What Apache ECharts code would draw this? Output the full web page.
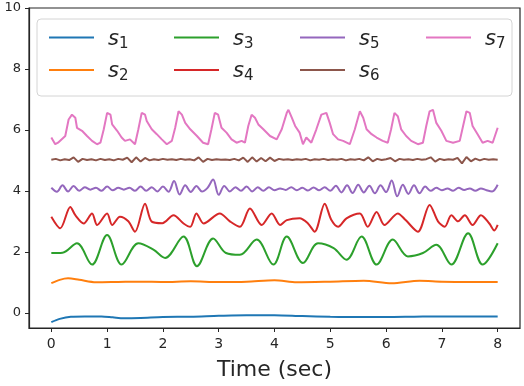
<!DOCTYPE html>
<html>
<head>
<meta charset="utf-8">
<script src="https://cdn.jsdelivr.net/npm/echarts@6/dist/echarts.min.js"></script>
<style>
  html, body { margin: 0; padding: 0; background: #fff; }
  #main { width: 524px; height: 386px; }
</style>
</head>
<body>
<div id="main"></div>
<script>
// tick labels
const xTicks = [0, 1, 2, 3, 4, 5, 6, 7, 8]
const yTicks = [0, 2, 4, 6, 8, 10]
const names = ['s1', 's2', 's3', 's4', 's5', 's6', 's7']
const colors = ['#1f77b4', '#ff7f0e', '#2ca02c', '#d62728', '#9467bd', '#8c564b', '#e377c2']

// s1 (blue)
const s1T = [0, 0.15, 0.35, 0.6, 0.9, 1.1, 1.3, 1.6, 2.0, 2.5, 3.0, 3.5, 4.0, 4.5, 5.0, 5.5, 6.0, 6.5, 7.0, 7.5, 8.0]
const s1 = [-0.31, -0.2, -0.13, -0.12, -0.12, -0.15, -0.18, -0.17, -0.14, -0.13, -0.1, -0.08, -0.08, -0.11, -0.13, -0.14, -0.14, -0.13, -0.12, -0.12, -0.12]

// s2 (orange)
const s2T = [0, 0.15, 0.3, 0.5, 0.8, 1.2, 1.6, 2.0, 2.5, 3.0, 3.5, 4.0, 4.4, 5.0, 5.6, 6.1, 6.6, 7.0, 7.5, 8.0]
const s2 = [0.97, 1.08, 1.13, 1.08, 1.0, 1.01, 1.02, 1.01, 1.03, 1.01, 1.02, 1.07, 1.0, 1.02, 1.05, 0.97, 1.05, 1.02, 1.01, 1.01]

// s3 (green)
const s3T = [0, 0.2, 0.46, 0.73, 1.0, 1.26, 1.56, 1.83, 2.04, 2.37, 2.61, 2.9, 3.13, 3.38, 3.68, 3.98, 4.22, 4.51, 4.78, 5.06, 5.29, 5.56, 5.83, 6.12, 6.39, 6.66, 6.9, 7.17, 7.47, 7.73, 8.0]
const s3 = [1.96, 1.97, 2.28, 1.58, 2.55, 1.58, 2.28, 2.07, 1.8, 2.5, 1.53, 2.44, 1.96, 1.9, 2.4, 1.58, 2.5, 1.63, 2.28, 2.12, 1.74, 2.5, 1.58, 2.4, 1.85, 1.96, 2.23, 1.58, 2.61, 1.58, 2.28]

// s4 (red)
const s4T = [0, 0.16, 0.34, 0.43, 0.58, 0.73, 0.82, 1.0, 1.09, 1.23, 1.38, 1.5, 1.68, 1.8, 1.99, 2.19, 2.37, 2.49, 2.6, 2.73, 3.02, 3.2, 3.38, 3.56, 3.77, 3.95, 4.1, 4.22, 4.45, 4.6, 4.72, 4.9, 5.02, 5.14, 5.29, 5.53, 5.67, 5.83, 5.97, 6.21, 6.35, 6.57, 6.78, 6.93, 7.05, 7.17, 7.29, 7.41, 7.55, 7.7, 7.85, 7.94, 8.0]
const s4 = [3.15, 2.77, 3.47, 3.2, 2.93, 3.26, 2.88, 3.26, 2.88, 3.15, 3.0, 2.66, 3.58, 2.99, 2.94, 3.2, 2.93, 2.82, 3.26, 2.93, 3.26, 3.0, 2.82, 3.42, 2.88, 3.26, 2.88, 3.04, 3.1, 2.93, 2.66, 3.58, 3.04, 2.82, 3.1, 3.26, 2.82, 3.31, 2.88, 3.26, 3.04, 2.66, 3.54, 3.0, 2.82, 3.2, 3.0, 3.2, 2.88, 3.2, 2.93, 2.7, 2.88]

// s5 (purple), every 0.1 s
const s5T = [0, 0.1, 0.2, 0.3, 0.4, 0.5, 0.6, 0.7, 0.8, 0.9, 1.0, 1.1, 1.2, 1.3, 1.4, 1.5, 1.6, 1.7, 1.8, 1.9, 2.0, 2.1, 2.2, 2.3, 2.4, 2.5, 2.6, 2.7, 2.8, 2.9, 3.0, 3.1, 3.2, 3.3, 3.4, 3.5, 3.6, 3.7, 3.8, 3.9, 4.0, 4.1, 4.2, 4.3, 4.4, 4.5, 4.6, 4.7, 4.8, 4.9, 5.0, 5.1, 5.2, 5.3, 5.4, 5.5, 5.6, 5.7, 5.8, 5.9, 6.0, 6.1, 6.2, 6.3, 6.4, 6.5, 6.6, 6.7, 6.8, 6.9, 7.0, 7.1, 7.2, 7.3, 7.4, 7.5, 7.6, 7.7, 7.8, 7.9, 8.0]
const s5 = [4.1, 3.97, 4.18, 3.98, 4.16, 4.0, 4.12, 4.04, 4.1, 4.0, 4.14, 4.02, 4.1, 4.04, 4.1, 4.0, 4.14, 4.0, 4.12, 3.98, 4.14, 3.97, 4.32, 3.88, 4.18, 3.96, 4.16, 3.98, 4.1, 4.37, 3.87, 4.16, 3.98, 4.12, 4.0, 4.14, 3.98, 4.12, 4.0, 4.12, 4.02, 4.08, 4.03, 4.12, 4.02, 4.1, 4.01, 4.11, 4.02, 4.12, 4.0, 4.17, 3.95, 4.18, 3.93, 4.2, 3.95, 4.17, 3.92, 4.18, 3.96, 4.34, 3.82, 4.2, 3.9, 4.18, 3.92, 4.14, 4.0, 4.1, 4.02, 4.08, 4.0, 4.1, 4.03, 4.08, 4.0, 4.08, 4.02, 3.98, 4.2]

// s6 (brown), every 0.08 s
const s6T = [0, 0.08, 0.16, 0.24, 0.32, 0.4, 0.48, 0.56, 0.64, 0.72, 0.8, 0.88, 0.96, 1.04, 1.12, 1.2, 1.28, 1.36, 1.44, 1.52, 1.6, 1.68, 1.76, 1.84, 1.92, 2.0, 2.08, 2.16, 2.24, 2.32, 2.4, 2.48, 2.56, 2.64, 2.72, 2.8, 2.88, 2.96, 3.04, 3.12, 3.2, 3.28, 3.36, 3.44, 3.52, 3.6, 3.68, 3.76, 3.84, 3.92, 4.0, 4.08, 4.16, 4.24, 4.32, 4.4, 4.48, 4.56, 4.64, 4.72, 4.8, 4.88, 4.96, 5.04, 5.12, 5.2, 5.28, 5.36, 5.44, 5.52, 5.6, 5.68, 5.76, 5.84, 5.92, 6.0, 6.08, 6.16, 6.24, 6.32, 6.4, 6.48, 6.56, 6.64, 6.72, 6.8, 6.88, 6.96, 7.04, 7.12, 7.2, 7.28, 7.36, 7.44, 7.52, 7.6, 7.68, 7.76, 7.84, 7.92, 8.0]
const s6 = [5.02, 5.05, 5.0, 5.04, 5.01, 5.1, 4.95, 5.05, 5.01, 5.04, 5.0, 5.05, 5.01, 5.04, 5.0, 5.05, 5.02, 5.09, 4.94, 5.1, 4.96, 5.08, 5.0, 5.04, 5.01, 5.05, 5.02, 5.04, 5.01, 5.05, 5.02, 5.04, 5.0, 5.1, 4.95, 5.05, 5.01, 5.04, 5.02, 5.03, 5.01, 5.05, 5.0, 5.09, 4.95, 5.1, 4.96, 5.08, 4.97, 5.09, 4.98, 5.05, 5.02, 5.04, 5.01, 5.04, 5.02, 5.05, 5.0, 5.04, 5.02, 5.05, 5.01, 5.04, 5.02, 5.05, 5.0, 5.04, 5.02, 5.05, 5.0, 5.1, 4.97, 5.05, 5.01, 5.04, 5.08, 4.97, 5.05, 5.02, 5.04, 5.01, 5.05, 5.02, 5.04, 5.1, 4.96, 5.05, 5.01, 5.04, 5.02, 5.08, 4.9, 5.11, 4.97, 5.06, 5.0, 5.05, 5.02, 5.04, 5.02]

// s7 (pink)
const s7T = [0, 0.07, 0.12, 0.25, 0.31, 0.37, 0.43, 0.46, 0.55, 0.64, 0.73, 0.82, 0.88, 0.94, 1.0, 1.06, 1.09, 1.18, 1.26, 1.32, 1.41, 1.5, 1.56, 1.62, 1.68, 1.71, 1.8, 1.89, 1.98, 2.07, 2.16, 2.22, 2.28, 2.34, 2.4, 2.49, 2.61, 2.72, 2.81, 2.87, 2.93, 2.99, 3.05, 3.14, 3.23, 3.32, 3.41, 3.47, 3.53, 3.59, 3.65, 3.71, 3.8, 3.92, 4.04, 4.13, 4.22, 4.25, 4.31, 4.37, 4.45, 4.51, 4.57, 4.66, 4.75, 4.84, 4.93, 4.99, 5.05, 5.14, 5.23, 5.35, 5.44, 5.53, 5.59, 5.65, 5.74, 5.83, 5.94, 6.03, 6.09, 6.15, 6.21, 6.27, 6.36, 6.45, 6.57, 6.66, 6.72, 6.78, 6.84, 6.9, 6.99, 7.08, 7.2, 7.32, 7.38, 7.44, 7.5, 7.55, 7.64, 7.73, 7.82, 7.91, 8.0]
const s7 = [5.75, 5.53, 5.58, 5.8, 6.34, 6.5, 6.4, 6.07, 5.97, 5.8, 5.64, 5.53, 5.58, 6.02, 6.56, 6.5, 6.18, 5.97, 5.75, 5.64, 5.69, 5.53, 6.02, 6.56, 6.5, 6.29, 6.02, 5.86, 5.69, 5.53, 5.64, 6.07, 6.61, 6.5, 6.23, 6.02, 5.8, 5.58, 5.53, 6.02, 6.56, 6.5, 6.07, 5.91, 5.69, 5.58, 5.64, 5.58, 6.13, 6.5, 6.4, 6.18, 6.02, 5.8, 5.69, 6.02, 6.56, 6.66, 6.4, 6.13, 5.91, 5.53, 5.75, 5.58, 6.02, 6.5, 6.56, 6.23, 5.86, 5.69, 5.64, 5.53, 6.02, 6.61, 6.4, 6.02, 5.86, 5.75, 5.64, 5.58, 6.02, 6.56, 6.45, 6.02, 5.8, 5.64, 5.53, 5.58, 6.13, 6.61, 6.66, 6.23, 5.97, 5.64, 5.58, 5.64, 6.13, 6.61, 6.56, 6.13, 5.86, 5.58, 5.64, 5.58, 6.07]

const times = [s1T, s2T, s3T, s4T, s5T, s6T, s7T]
const values = [s1, s2, s3, s4, s5, s6, s7]
const smoothing = [0.3, 0.3, 0.35, 0.3, 0.35, false, false]

const font = 'DejaVu Sans'
const ink = '#262626'

const chart = echarts.init(document.getElementById('main'))

// legend: 4 columns, filled column by column like matplotlib
const colLeft = [44, 169, 295, 421]
const legends = colLeft.map(function (left, c) {
  return {
    orient: 'vertical',
    left: left,
    top: 24,
    itemWidth: 45,
    itemHeight: 2,
    itemGap: 10,
    icon: 'rect',
    data: names.slice(c * 2, c * 2 + 2),
    formatter: function (n) {
      return '{s|s}{d|' + n.slice(1) + '}'
    },
    textStyle: {
      padding: [4, 0, 0, 9],
      rich: {
        s: { fontFamily: font, fontStyle: 'italic', fontSize: 21, color: ink },
        d: { fontFamily: font, fontSize: 15, color: ink, padding: [9, 0, 0, 0] }
      }
    }
  }
})

const series = names.map(function (n, i) {
  return {
    name: n,
    type: 'line',
    showSymbol: false,
    smooth: smoothing[i],
    lineStyle: { width: 2, color: colors[i] },
    itemStyle: { color: colors[i] },
    data: times[i].map(function (t, k) { return [t, values[i][k]] })
  }
})

chart.setOption({
  animation: false,
  textStyle: { fontFamily: font },
  grid: {
    left: 29, right: 4, top: 8, bottom: 54,
    show: true,
    borderColor: ink,
    borderWidth: 1.2
  },
  graphic: [{
    type: 'rect',
    z: 3,
    shape: { x: 37, y: 19, width: 475, height: 77, r: 4 },
    style: { fill: 'rgba(255,255,255,0.8)', stroke: '#d4d4d4', lineWidth: 1 }
  }],
  legend: legends,
  xAxis: {
    type: 'value',
    min: -0.4,
    max: 8.4,
    name: 'Time (sec)',
    nameLocation: 'middle',
    nameGap: 31,
    nameTextStyle: { fontFamily: font, fontSize: 22, color: ink },
    splitLine: { show: false },
    axisLine: { show: true, onZero: false, lineStyle: { color: ink, width: 1.2 } },
    axisTick: { show: true, length: 4, lineStyle: { color: ink }, customValues: xTicks },
    axisLabel: { fontFamily: font, fontSize: 14, color: ink, margin: 9, customValues: xTicks }
  },
  yAxis: {
    type: 'value',
    min: -0.5,
    max: 10,
    splitLine: { show: false },
    axisLine: { show: true, onZero: false, lineStyle: { color: ink, width: 1.2 } },
    axisTick: { show: true, length: 4, lineStyle: { color: ink }, customValues: yTicks },
    axisLabel: { fontFamily: font, fontSize: 13, color: ink, margin: 8, customValues: yTicks }
  },
  series: series
})
</script>
</body>
</html>
